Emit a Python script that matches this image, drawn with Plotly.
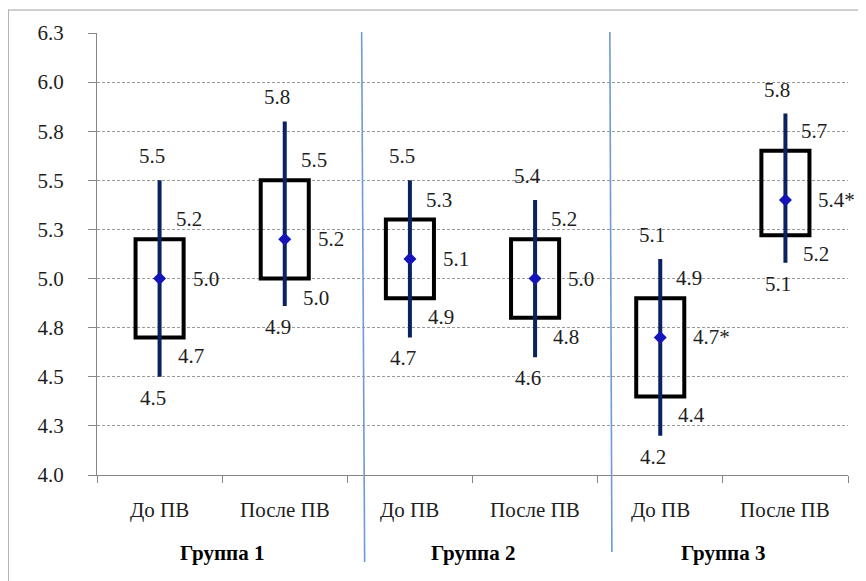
import plotly.graph_objects as go

# ---- data ----
categories = ["До ПВ", "После ПВ", "До ПВ", "После ПВ", "До ПВ", "После ПВ"]
groups = ["Группа 1", "Группа 2", "Группа 3"]
max_vals = [5.5, 5.8, 5.5, 5.4, 5.1, 5.84]
q3_vals = [5.2, 5.5, 5.3, 5.2, 4.9, 5.65]
mean_vals = [5.0, 5.2, 5.1, 5.0, 4.7, 5.4]
q1_vals = [4.7, 5.0, 4.9, 4.8, 4.4, 5.22]
min_vals = [4.5, 4.86, 4.7, 4.6, 4.2, 5.08]
mean_marks = ["", "", "", "", "*", "*"]
ytick_vals = [4.0, 4.25, 4.5, 4.75, 5.0, 5.25, 5.5, 5.75, 6.0, 6.25]
ytick_text = ["4.0", "4.3", "4.5", "4.8", "5.0", "5.3", "5.5", "5.8", "6.0", "6.3"]

FONT = "Liberation Serif"
FS = 21
TXT = "#1e1e1e"

pos = list(range(len(categories)))

fig = go.Figure()

# boxes (interquartile) as outlined bars
fig.add_trace(go.Bar(
    x=pos,
    y=[q3 - q1 for q1, q3 in zip(q1_vals, q3_vals)],
    base=q1_vals,
    width=0.384,
    marker=dict(color="rgba(0,0,0,0)", line=dict(color="black", width=4)),
    hoverinfo="skip",
    showlegend=False,
))

# whiskers + mean markers
fig.add_trace(go.Scatter(
    x=pos,
    y=mean_vals,
    mode="markers",
    marker=dict(symbol="diamond", size=10, color="#1414b8"),
    error_y=dict(
        type="data", symmetric=False,
        array=[mx - m for mx, m in zip(max_vals, mean_vals)],
        arrayminus=[m - mn for m, mn in zip(mean_vals, min_vals)],
        width=0, thickness=4, color="#0b2260",
    ),
    showlegend=False,
))

annotations = []
lab_font = dict(family=FONT, size=FS, color=TXT)
for i in pos:
    annotations.append(dict(x=i, y=max_vals[i], xref="x", yref="y", text=f"{max_vals[i]:.1f}",
                            showarrow=False, xshift=-8, yshift=24, font=lab_font))
    annotations.append(dict(x=i, y=q3_vals[i], xref="x", yref="y", text=f"{q3_vals[i]:.1f}",
                            showarrow=False, xshift=29, yshift=20, font=lab_font))
    annotations.append(dict(x=i, y=mean_vals[i], xref="x", yref="y",
                            text=f"{mean_vals[i]:.1f}{mean_marks[i]}",
                            showarrow=False, xanchor="left", xshift=31, yshift=0, font=lab_font))
    annotations.append(dict(x=i, y=q1_vals[i], xref="x", yref="y", text=f"{q1_vals[i]:.1f}",
                            showarrow=False, xshift=31, yshift=-19, font=lab_font))
    annotations.append(dict(x=i, y=min_vals[i], xref="x", yref="y", text=f"{min_vals[i]:.1f}",
                            showarrow=False, xshift=-7, yshift=-21, font=lab_font))
    # category labels
    annotations.append(dict(x=i, y=0, xref="x", yref="paper", text=categories[i],
                            showarrow=False, yanchor="middle", yshift=-35, font=lab_font))

for g, name in enumerate(groups):
    annotations.append(dict(x=2 * g + 0.5, y=0, xref="x", yref="paper", text=f"<b>{name}</b>",
                            showarrow=False, yanchor="middle", yshift=-78,
                            font=dict(family=FONT, size=FS, color="black")))

shapes = [
    # separators between groups (hand-drawn, slightly slanted)
    dict(type="line", xref="paper", yref="paper", x0=0.3524, y0=1.002, x1=0.3564, y1=-0.197,
         line=dict(color="#6d9bd5", width=1.6)),
    dict(type="line", xref="paper", yref="paper", x0=0.6829, y0=1.002, x1=0.6856, y1=-0.174,
         line=dict(color="#6d9bd5", width=1.6)),
    # outer frame (left and top)
    dict(type="line", xref="paper", yref="paper", x0=-0.1193, y0=1.052, x1=-0.1193, y1=-0.3,
         line=dict(color="#8a8a8a", width=2.5)),
    dict(type="line", xref="paper", yref="paper", x0=-0.1193, y0=1.052, x1=1.1, y1=1.052,
         line=dict(color="#a0a0a0", width=1)),
]

fig.update_layout(
    width=866, height=581,
    margin=dict(l=89, r=26, t=25, b=114),
    paper_bgcolor="white", plot_bgcolor="white",
    font=dict(family=FONT, size=FS, color=TXT),
    showlegend=False,
    annotations=annotations,
    shapes=shapes,
    xaxis=dict(
        range=[-0.5, 5.5], tickmode="array",
        tickvals=[p - 0.5 for p in pos] + [pos[-1] + 0.5],
        showticklabels=False, ticks="outside", ticklen=7, tickcolor="#868686",
        showgrid=False, zeroline=False,
        showline=True, linecolor="#868686", linewidth=1,
    ),
    yaxis=dict(
        range=[4.0, 6.25], tickmode="array", tickvals=ytick_vals, ticktext=ytick_text,
        ticks="outside", ticklen=8, tickcolor="#868686", ticklabelstandoff=20,
        showgrid=True, gridcolor="#9a9a9a", griddash="3px,2px", gridwidth=1,
        zeroline=False, showline=True, linecolor="#868686", linewidth=1,
        tickfont=dict(family=FONT, size=FS, color=TXT),
    ),
)

fig.write_html("out.html")
